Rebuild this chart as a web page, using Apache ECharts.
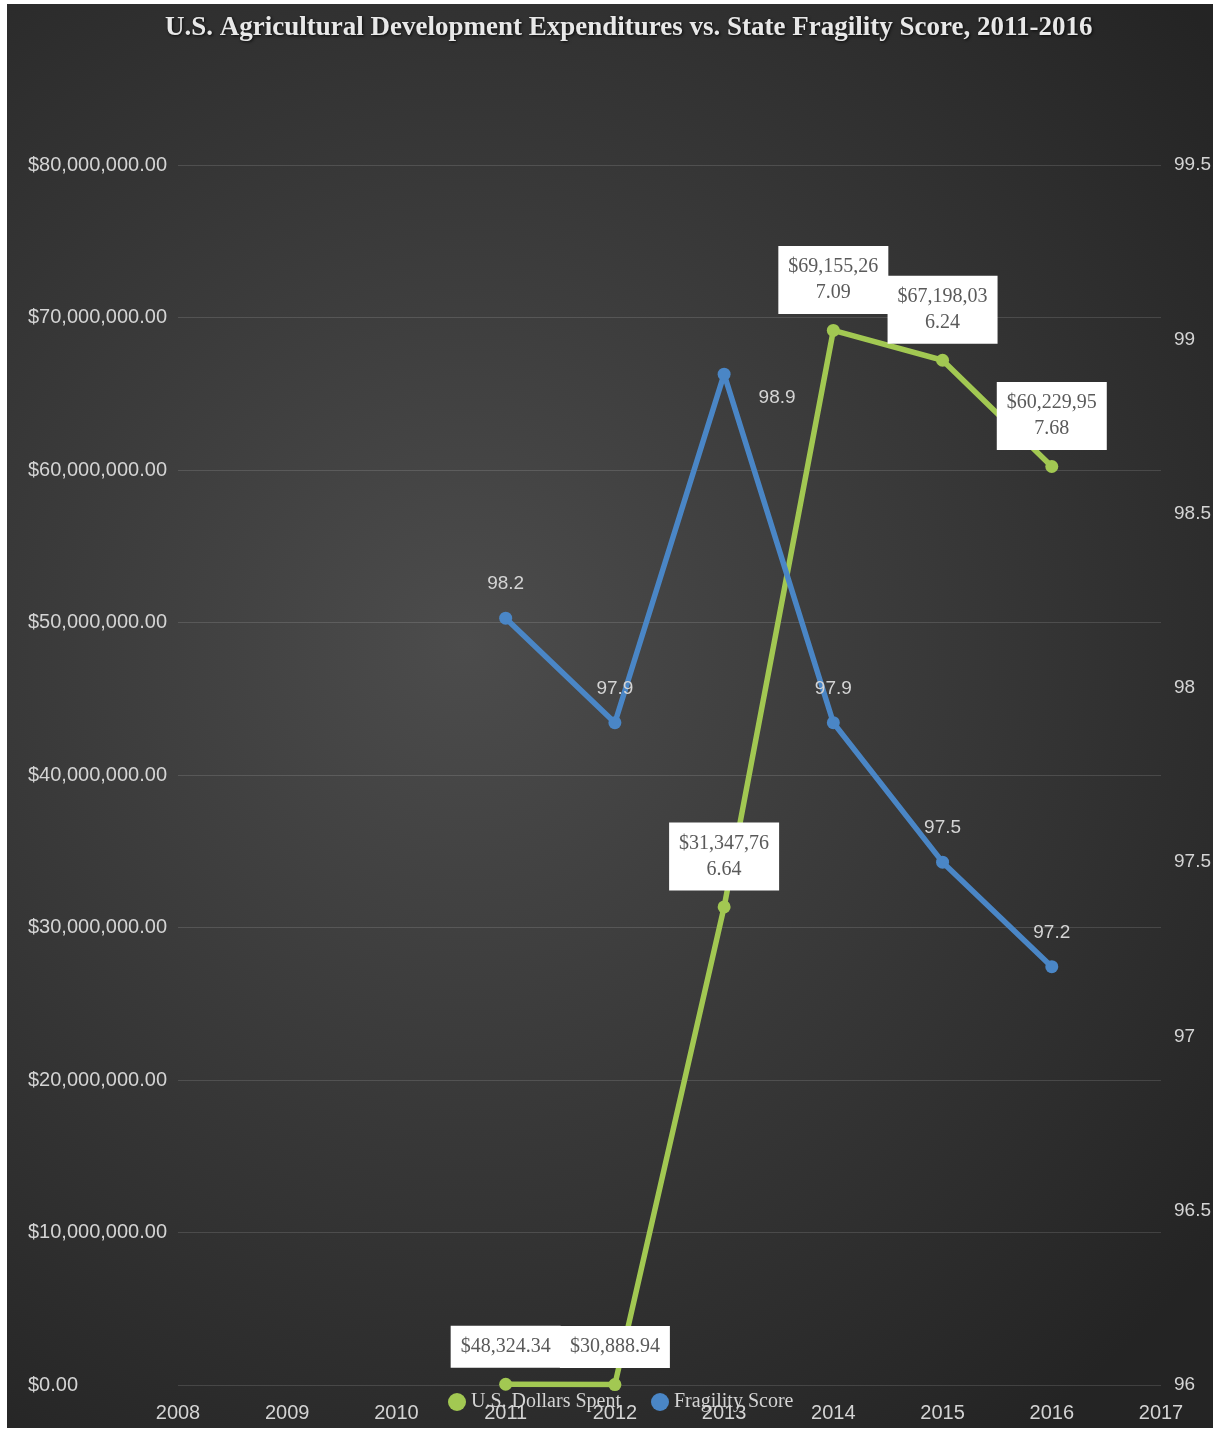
<!DOCTYPE html>
<html><head><meta charset="utf-8">
<script src="https://cdn.jsdelivr.net/npm/echarts@6/dist/echarts.min.js"></script>
<style>html,body{margin:0;padding:0;background:#fff;}#c{position:absolute;left:7px;top:4px;width:1206px;height:1424px;}</style>
</head><body><div id="c"></div>
<script>
const titleText = 'U.S. Agricultural Development Expenditures vs. State Fragility Score, 2011-2016';
const seriesNames = ['U.S. Dollars Spent', 'Fragility Score'];
const years = [2011, 2012, 2013, 2014, 2015, 2016];
const dollarsSpent = [48324.34, 30888.94, 31347766.64, 69155267.09, 67198036.24, 60229957.68];
const fragilityScore = [98.2, 97.9, 98.9, 97.9, 97.5, 97.2];
const xRange = [2008, 2017];
const leftRange = [0, 80000000, 10000000];
const rightRange = [96, 99.5, 0.5];

function money(v) {
  const parts = Math.abs(v).toFixed(2).split('.');
  parts[0] = parts[0].replace(/\B(?=(\d{3})+(?!\d))/g, ',');
  return '$' + parts.join('.');
}
function wrapMoney(v) {
  const s = money(v);
  return s.length > 10 ? s.slice(0, 10) + '\n' + s.slice(10) : s;
}

const GREEN = '#a2c852';
const BLUE = '#4a86c6';
const LABEL = '#d4d4d4';

const chart = echarts.init(document.getElementById('c'));
chart.setOption({
  backgroundColor: {
    type: 'radial', x: 0.38, y: 0.45, r: 0.8,
    colorStops: [{offset: 0, color: '#4c4c4c'}, {offset: 1, color: '#242424'}]
  },
  title: {
    text: titleText, left: 153, top: 6,
    textStyle: {color: '#e8e8e8', fontFamily: 'Liberation Serif', fontWeight: 'bold', fontSize: 27,
      textShadowColor: 'rgba(0,0,0,0.8)', textShadowBlur: 3, textShadowOffsetX: 1, textShadowOffsetY: 1}
  },
  legend: {
    left: 436, top: 1383, itemWidth: 18, itemHeight: 18, itemGap: 30, icon: 'circle',
    textStyle: {color: LABEL, fontFamily: 'Liberation Serif', fontSize: 20},
    data: seriesNames
  },
  grid: {left: 171, right: 52, top: 161, bottom: 43, containLabel: false, outerBoundsMode: 'none'},
  xAxis: {
    type: 'value', min: xRange[0], max: xRange[1], interval: 1,
    axisLine: {show: false}, axisTick: {show: false}, splitLine: {show: false},
    axisLabel: {color: LABEL, fontFamily: 'Liberation Sans', fontSize: 20, margin: 18, formatter: v => String(v)}
  },
  yAxis: [{
    type: 'value', min: leftRange[0], max: leftRange[1], interval: leftRange[2],
    axisLine: {show: false}, axisTick: {show: false},
    splitLine: {lineStyle: {color: 'rgba(255,255,255,0.13)', width: 1}},
    axisLabel: {color: LABEL, fontFamily: 'Liberation Sans', fontSize: 20, align: 'left', margin: 150, formatter: v => money(v)}
  }, {
    type: 'value', min: rightRange[0], max: rightRange[1], interval: rightRange[2],
    axisLine: {show: false}, axisTick: {show: false}, splitLine: {show: false},
    axisLabel: {color: LABEL, fontFamily: 'Liberation Sans', fontSize: 19, align: 'left', margin: 13}
  }],
  series: [{
    name: seriesNames[0], type: 'line', yAxisIndex: 0,
    data: years.map((y, i) => [y, dollarsSpent[i]]),
    symbol: 'circle', symbolSize: 13,
    lineStyle: {color: GREEN, width: 5.5}, itemStyle: {color: GREEN},
    label: {
      show: true, position: 'top', distance: 10,
      formatter: p => wrapMoney(p.value[1]),
      backgroundColor: '#ffffff', padding: [8, 10], color: '#5a5a5a',
      fontFamily: 'Liberation Serif', fontSize: 20, lineHeight: 26, align: 'center'
    },
    z: 2
  }, {
    name: seriesNames[1], type: 'line', yAxisIndex: 1,
    data: years.map((y, i) => {
      const d = {value: [y, fragilityScore[i]]};
      if (i === 2) d.label = {position: 'right', distance: 28, offset: [0, 24]};
      return d;
    }),
    symbol: 'circle', symbolSize: 13,
    lineStyle: {color: BLUE, width: 5.5}, itemStyle: {color: BLUE},
    label: {
      show: true, position: 'top', distance: 18,
      formatter: p => String(p.value[1]),
      color: LABEL, fontFamily: 'Liberation Sans', fontSize: 19
    },
    z: 3
  }]
});
</script></body></html>
